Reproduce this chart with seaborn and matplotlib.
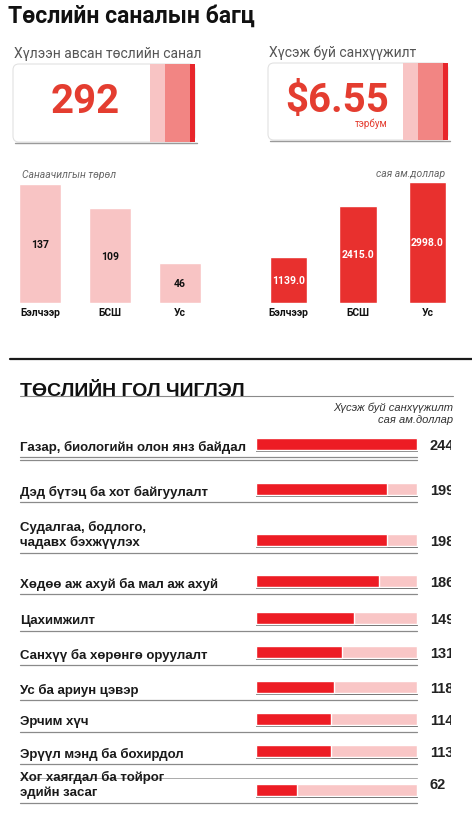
import pandas as pd
import matplotlib
matplotlib.use("Agg")
import matplotlib.pyplot as plt
import seaborn as sns
from matplotlib.patches import FancyBboxPatch, Rectangle

# ---------------- DATA ----------------
card_titles = ["Хүлээн авсан төслийн санал", "Хүсэж буй санхүүжилт"]
total_projects = "292"
total_funding = "$6.55"
funding_unit = "тэрбум"

sector_cats = ["Бэлчээр", "БСШ", "Ус"]
sector_counts = [137, 109, 46]
sector_funding = [1139.0, 2415.0, 2998.0]

topic_labels = [
    "Газар, биологийн олон янз байдал",
    "Дэд бүтэц ба хот байгуулалт",
    "Судалгаа, бодлого,\nчадавх бэхжүүлэх",
    "Хөдөө аж ахуй ба мал аж ахуй",
    "Цахимжилт",
    "Санхүү ба хөрөнгө оруулалт",
    "Ус ба ариун цэвэр",
    "Эрчим хүч",
    "Эрүүл мэнд ба бохирдол",
    "Хог хаягдал ба тойрог\nэдийн засаг",
]
topic_values = [244, 199, 198, 186, 149, 131, 118, 114, 113, 62]

# ---------------- STYLE ----------------
sns.set_theme(style="white")
plt.rcParams["font.family"] = ["Roboto", "DejaVu Sans"]
ARIAL = ["Liberation Sans", "DejaVu Sans"]

RED = "#e8262b"
RED_TXT = "#e43d30"
PINK = "#f8c4c4"
MID = "#f28583"
BAR_RED = "#ed1c24"
TRACK = "#f9c6c6"
GREY = "#8a8a8a"

W, H = 472, 820
fig = plt.figure(figsize=(W / 100, H / 100), dpi=100)

# background axes in pixel coordinates
bg = fig.add_axes([0, 0, 1, 1])
bg.set_xlim(0, W)
bg.set_ylim(H, 0)
bg.axis("off")


def fig_rect(x0, y0, x1, y1):
    return [x0 / W, 1 - y1 / H, (x1 - x0) / W, (y1 - y0) / H]


# ---------------- HEADER ----------------
bg.text(8, 16, "Төслийн саналын багц", fontsize=16.6, fontweight="bold",
        color="#111111", va="center", ha="left")

cards = [(13, 65, 195, 143), (268, 64, 448, 141)]
for (x0, y0, x1, y1), title in zip(cards, card_titles):
    bg.text(x0 + 1, y0 - 11, title, fontsize=10, color="#555555", va="center")
    bg.add_patch(FancyBboxPatch((x0, y0), x1 - x0, y1 - y0,
                                boxstyle="round,pad=0,rounding_size=6",
                                fc="white", ec="#e2e2e2", lw=0.8))
    bg.plot([x0 + 2, x1 + 2], [y1 + 0.5, y1 + 0.5], color="#9a9a9a", lw=1)
    sx = x1 - 45
    bg.add_patch(Rectangle((sx, y0), 15, y1 - y0, fc=PINK, ec="none"))
    bg.add_patch(Rectangle((sx + 15, y0), 25, y1 - y0, fc=MID, ec="none"))
    bg.add_patch(Rectangle((sx + 40, y0), 5, y1 - y0, fc=RED, ec="none"))

bg.text(85, 102, total_projects, fontsize=29, fontweight="bold",
        color=RED_TXT, ha="center", va="center")
bg.text(337, 101, total_funding, fontsize=29, fontweight="bold",
        color=RED_TXT, ha="center", va="center")
bg.text(371, 124, funding_unit, fontsize=7, color=RED_TXT,
        ha="center", va="center")

# ---------------- SMALL BAR CHARTS ----------------
df_sec = pd.DataFrame({"cat": sector_cats, "count": sector_counts,
                       "fund": sector_funding})

ax1 = fig.add_axes(fig_rect(5, 185, 215, 304))
sns.barplot(data=df_sec, x="cat", y="count", color=PINK, saturation=1,
            width=0.6, ax=ax1)
ax1.bar_label(ax1.containers[0], labels=[f"{v:d}" for v in sector_counts],
              label_type="center", fontsize=7.5, fontweight="bold",
              color="#111111")
ax1.set_ylim(0, max(sector_counts))

ax2 = fig.add_axes(fig_rect(254, 183, 462, 304))
sns.barplot(data=df_sec, x="cat", y="fund", color="#e8302e", saturation=1,
            width=0.54, ax=ax2)
ax2.bar_label(ax2.containers[0], labels=[f"{v:.1f}" for v in sector_funding],
              label_type="center", fontsize=7.5, fontweight="bold",
              color="white")
ax2.set_ylim(0, max(sector_funding))

for ax in (ax1, ax2):
    ax.set_facecolor("none")
    sns.despine(ax=ax, left=True, bottom=True)
    ax.set_yticks([])
    ax.set_xlabel("")
    ax.set_ylabel("")
    ax.tick_params(axis="x", length=0, pad=3)
    for t in ax.get_xticklabels():
        t.set_fontsize(7.5)
        t.set_fontweight("bold")
        t.set_color("#111111")

bg.text(22, 175, "Санаачилгын төрөл", fontsize=7.5, style="italic",
        color="#666666", va="center")
bg.text(445, 174, "сая ам.доллар", fontsize=7.5, style="italic",
        color="#666666", va="center", ha="right")

# ---------------- SEPARATOR ----------------
bg.plot([10, W], [360, 360], color="#1a1a1a", lw=1.6)

# ---------------- TOPICS ----------------
bg.text(20, 396, "ТӨСЛИЙН ГОЛ ЧИГЛЭЛ", fontsize=14, fontweight="bold",
        color="#111111", va="baseline", family=ARIAL)
bg.plot([20, 453], [397, 397], color=GREY, lw=0.8)
bg.text(453, 408, "Хүсэж буй санхүүжилт", fontsize=8, style="italic",
        color="#333333", ha="right", va="center", family=ARIAL)
bg.text(453, 420, "сая ам.доллар", fontsize=8, style="italic",
        color="#333333", ha="right", va="center", family=ARIAL)

row_y = [445, 490, 541, 582, 619, 653, 688, 720, 752, 791]
value_dy = [1, 1, 1, 1, 1, 1, 1, 1, 1, -6]
track_x0, track_x1, clip_x1 = 256, 417, 451
vmax = max(topic_values)
px_per_unit = (track_x1 - track_x0) / vmax
xmax = (clip_x1 - track_x0) / px_per_unit
text_x = (430 - track_x0) / px_per_unit

for i, (lab, val) in enumerate(zip(topic_labels, topic_values)):
    yc = row_y[i]
    ax = fig.add_axes(fig_rect(track_x0, yc - 12, clip_x1, yc + 12))
    row = pd.DataFrame({"topic": [lab], "value": [val], "track": [vmax]})
    sns.barplot(data=row, x="track", y="topic", orient="h", color=TRACK,
                saturation=1, width=1.0, ax=ax)
    sns.barplot(data=row, x="value", y="topic", orient="h", color=BAR_RED,
                saturation=1, width=1.0, ax=ax)
    ax.set_xlim(0, xmax)
    ax.set_ylim(1, -1)
    ax.axis("off")
    ax.set_facecolor("none")
    ax.text(text_x, value_dy[i] / 12, f"{val}",
            fontsize=10.5, fontweight="bold", color="#222222",
            va="center", ha="left", family=ARIAL, clip_on=True)

    nl = lab.count("\n")
    bg.text(20, yc + 2 - nl * 8, lab, fontsize=9.5, fontweight="bold",
            color="#1a1a1a", va="center", ha="left", family=ARIAL,
            linespacing=1.25)
    bg.plot([track_x0, track_x1], [yc + 6.5, yc + 6.5], color="#555555", lw=0.7)
    bg.plot([20, track_x1], [yc + 13, yc + 13], color=GREY, lw=0.9)
    if i == 0:
        bg.plot([20, track_x1], [yc + 16, yc + 16], color=GREY, lw=0.9)

bg.plot([20, track_x1], [779, 779], color="#aaaaaa", lw=0.7)

fig.savefig("out.png", dpi=100)
